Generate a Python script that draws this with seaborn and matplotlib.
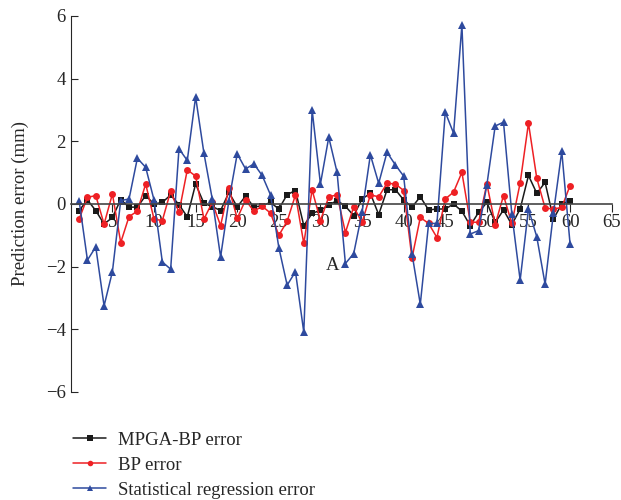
import seaborn as sns
import matplotlib.pyplot as plt
import pandas as pd
import numpy as np

sample = list(range(1, 61))

mpga_bp = [-0.21, 0.13, -0.21, -0.64, -0.43, 0.14, -0.10, -0.10, 0.27, 0.00,
           0.05, 0.29, -0.02, -0.41, 0.64, 0.02, -0.08, -0.21, 0.37, -0.09,
           0.25, -0.10, -0.05, 0.05, -0.16, 0.30, 0.43, -0.69, -0.30, -0.20,
           -0.03, 0.11, -0.07, -0.37, 0.16, 0.34, -0.34, 0.45, 0.46, 0.13,
           -0.10, 0.23, -0.19, -0.16, -0.16, 0.00, -0.23, -0.69, -0.27, 0.05,
           -0.59, -0.19, -0.66, -0.16, 0.91, 0.34, 0.69, -0.48, 0.00, 0.11]

bp = [-0.48, 0.21, 0.27, -0.64, 0.32, -1.23, -0.40, -0.23, 0.64, -0.48,
      -0.53, 0.41, -0.27, 1.09, 0.89, -0.48, 0.05, -0.69, 0.51, -0.46,
      0.13, -0.23, -0.07, -0.29, -1.00, -0.55, 0.29, -1.26, 0.45, -0.53,
      0.23, 0.29, -0.91, -0.09, -0.59, 0.29, 0.23, 0.66, 0.64, 0.43,
      -1.73, -0.43, -0.62, -1.07, 0.16, 0.38, 1.01, -0.57, -0.59, 0.64,
      -0.66, 0.27, -0.62, 0.67, 2.58, 0.82, -0.13, -0.16, -0.11, 0.59]

regression = [0.11, -1.79, -1.37, -3.25, -2.16, 0.11, 0.16, 1.46, 1.17, 0.13,
              -1.85, -2.08, 1.76, 1.39, 3.42, 1.62, 0.16, -1.69, 0.11, 1.60,
              1.12, 1.28, 0.91, 0.29, -1.39, -2.59, -2.16, -4.09, 3.01, 0.64,
              2.13, 1.01, -1.90, -1.58, -0.27, 1.57, 0.66, 1.65, 1.25, 0.89,
              -1.58, -3.20, -0.62, -0.62, 2.93, 2.26, 5.71, -0.96, -0.85, 0.61,
              2.49, 2.61, -0.32, -2.43, -0.16, -1.05, -2.56, -0.29, 1.68, -1.28]

x_ticks = [5, 10, 15, 20, 25, 30, 35, 40, 45, 50, 55, 60, 65]
y_ticks = [-6, -4, -2, 0, 2, 4, 6]

sns.set_style("ticks")
plt.rcParams['font.family'] = ['Liberation Serif', 'DejaVu Serif']
plt.rcParams['axes.unicode_minus'] = True

fig = plt.figure(figsize = (6.21, 5.0), dpi = 100)
ax = fig.add_axes([0.114, 0.216, 0.871, 0.752])

sns.lineplot(x = sample, y = mpga_bp, ax = ax, color = "#1a1a1a", marker = "s",
             markersize = 4.5, markeredgewidth = 0, linewidth = 1.1, label = "MPGA-BP error")
sns.lineplot(x = sample, y = bp, ax = ax, color = "#ee2024", marker = "o",
             markersize = 5, markeredgewidth = 0, linewidth = 1.1, label = "BP error")
sns.lineplot(x = sample, y = regression, ax = ax, color = "#2e4a9e", marker = "^",
             markersize = 6, markeredgewidth = 0, linewidth = 1.1, label = "Statistical regression error")

ax.set_xlim(0, 65)
ax.set_ylim(-6, 6)
ax.set_xticks(x_ticks)
ax.set_yticks(y_ticks)
ax.spines['top'].set_visible(False)
ax.spines['right'].set_visible(False)
ax.spines['bottom'].set_position(('data', 0))
ax.spines['bottom'].set_color("#444444")
ax.spines['bottom'].set_linewidth(1.2)
ax.tick_params(axis = "x", direction = "out", length = 6, labelsize = 13.5, pad = 1)
ax.tick_params(axis = "y", direction = "in", length = 5, labelsize = 13.5)
ax.set_ylabel("Prediction error (mm)", fontsize = 13.5, labelpad = 12)
ax.text(31.5, -1.95, "A", fontsize = 13.5, ha = "center", va = "center")

leg = fig.legend(*ax.get_legend_handles_labels(), loc = "upper left",
                 bbox_to_anchor = (0.117, 0.137), frameon = False, fontsize = 13.5,
                 handlelength = 1.8, labelspacing = 0.42, handletextpad = 0.6,
                 borderpad = 0, borderaxespad = 0)
ax.get_legend().remove()
for h in leg.legend_handles:
    h.set_markersize(4)

plt.savefig("out.png", dpi = 100)
plt.close()
